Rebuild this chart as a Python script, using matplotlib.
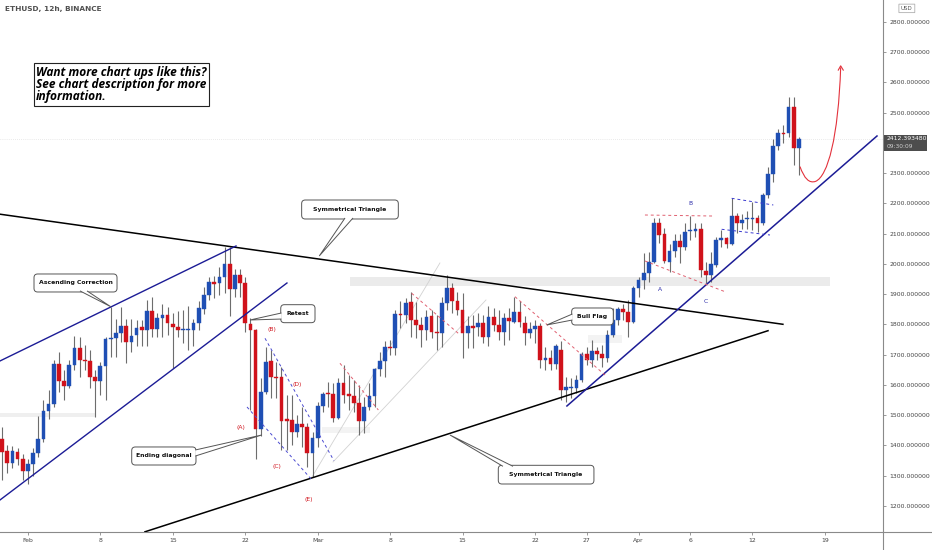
import numpy as np
import matplotlib
matplotlib.use("Agg")
import matplotlib.pyplot as plt
from matplotlib.patches import FancyBboxPatch, Rectangle, Polygon, PathPatch
from matplotlib.path import Path
from matplotlib.lines import Line2D
import matplotlib.transforms as mtransforms

# ---------------- data (ETHUSD 12h candles) ----------------
first_candle_day = -2.5   # days relative to Feb 1 00:00 (Jan 29 12:00)
candle_step = 0.5         # 12h

opens = [1420, 1383, 1341, 1380, 1355, 1317, 1339, 1376, 1420, 1514,
         1537, 1668, 1614, 1598, 1665, 1721, 1683, 1679, 1627, 1614,
         1663, 1751, 1756, 1773, 1795, 1743, 1765, 1790, 1782, 1845,
         1784, 1820, 1831, 1802, 1791, 1782, 1783, 1782, 1806, 1850,
         1897, 1940, 1936, 1958, 2000, 1916, 1964, 1936, 1802, 1782,
         1453, 1578, 1680, 1627, 1625, 1486, 1484, 1446, 1471, 1460,
         1374, 1424, 1531, 1572, 1570, 1490, 1608, 1569, 1564, 1539,
         1482, 1528, 1564, 1652, 1680, 1727, 1723, 1835, 1830, 1873,
         1815, 1798, 1782, 1828, 1775, 1771, 1872, 1922, 1879, 1848,
         1771, 1795, 1793, 1806, 1760, 1824, 1798, 1776, 1820, 1809,
         1842, 1806, 1773, 1785, 1795, 1684, 1688, 1669, 1716, 1583,
         1589, 1589, 1616, 1701, 1683, 1713, 1704, 1688, 1765, 1815,
         1850, 1842, 1809, 1919, 1947, 1969, 2008, 2134, 2099, 2008,
         2044, 2077, 2057, 2109, 2110, 2115, 1978, 1964, 1997, 2079,
         2085, 2066, 2159, 2134, 2148, 2149, 2151, 2134, 2228, 2297,
         2390, 2432, 2432, 2518, 2382]

highs = [1462, 1402, 1398, 1391, 1372, 1354, 1391, 1497, 1550, 1583,
         1683, 1710, 1650, 1683, 1762, 1760, 1732, 1716, 1650, 1677,
         1760, 1859, 1817, 1859, 1817, 1817, 1815, 1815, 1881, 1890,
         1839, 1868, 1857, 1839, 1846, 1848, 1861, 1817, 1879, 1923,
         1958, 1960, 1991, 2057, 2057, 1982, 1982, 1958, 1820, 1784,
         1622, 1727, 1716, 1677, 1661, 1567, 1567, 1501, 1528, 1473,
         1446, 1545, 1578, 1611, 1605, 1622, 1666, 1633, 1616, 1600,
         1561, 1605, 1655, 1710, 1746, 1749, 1848, 1876, 1886, 1909,
         1875, 1826, 1848, 1848, 1831, 1890, 1964, 1938, 1909, 1903,
         1828, 1831, 1837, 1831, 1861, 1853, 1848, 1837, 1853, 1890,
         1876, 1828, 1809, 1815, 1804, 1724, 1716, 1735, 1746, 1625,
         1622, 1633, 1710, 1727, 1749, 1727, 1732, 1782, 1853, 1857,
         1868, 1881, 1927, 1958, 2035, 2041, 2151, 2151, 2118, 2066,
         2099, 2099, 2137, 2159, 2137, 2134, 2008, 2041, 2090, 2112,
         2090, 2217, 2167, 2165, 2176, 2206, 2162, 2234, 2320, 2412,
         2445, 2459, 2551, 2551, 2419]

lows = [1286, 1308, 1324, 1336, 1286, 1273, 1299, 1363, 1413, 1486,
        1528, 1578, 1550, 1589, 1650, 1627, 1650, 1589, 1495, 1567,
        1550, 1694, 1691, 1743, 1672, 1710, 1729, 1729, 1729, 1758,
        1760, 1760, 1765, 1657, 1758, 1738, 1716, 1729, 1782, 1835,
        1881, 1886, 1897, 1903, 1828, 1892, 1892, 1776, 1517, 1354,
        1431, 1570, 1556, 1556, 1385, 1385, 1402, 1429, 1396, 1330,
        1297, 1396, 1512, 1528, 1479, 1486, 1539, 1517, 1512, 1435,
        1440, 1517, 1528, 1630, 1627, 1699, 1699, 1787, 1804, 1758,
        1754, 1724, 1749, 1754, 1716, 1727, 1848, 1837, 1831, 1688,
        1721, 1721, 1762, 1738, 1729, 1780, 1749, 1732, 1749, 1804,
        1793, 1732, 1754, 1738, 1655, 1649, 1649, 1653, 1550, 1545,
        1556, 1572, 1611, 1666, 1660, 1683, 1660, 1677, 1760, 1798,
        1815, 1760, 1804, 1892, 1916, 1941, 2002, 2068, 2002, 1975,
        2024, 2002, 2046, 2079, 2090, 1958, 1936, 1942, 1991, 2057,
        2052, 2063, 2101, 2115, 2115, 2112, 2107, 2129, 2217, 2272,
        2377, 2399, 2421, 2327, 2294]

closes = [1380, 1343, 1382, 1355, 1317, 1339, 1376, 1420, 1514, 1537,
          1668, 1614, 1598, 1665, 1721, 1683, 1679, 1627, 1614, 1663,
          1751, 1756, 1773, 1795, 1743, 1762, 1787, 1782, 1845, 1784,
          1820, 1831, 1804, 1791, 1782, 1785, 1786, 1806, 1853, 1897,
          1939, 1933, 1958, 2000, 1916, 1964, 1938, 1804, 1782, 1453,
          1578, 1677, 1625, 1622, 1482, 1481, 1446, 1471, 1460, 1374,
          1424, 1531, 1570, 1569, 1490, 1608, 1567, 1564, 1539, 1482,
          1528, 1564, 1652, 1680, 1727, 1723, 1835, 1830, 1872, 1815,
          1797, 1782, 1826, 1775, 1771, 1872, 1922, 1879, 1848, 1771,
          1795, 1789, 1806, 1760, 1824, 1798, 1776, 1820, 1812, 1842,
          1809, 1773, 1785, 1795, 1683, 1688, 1669, 1729, 1583, 1592,
          1594, 1616, 1701, 1683, 1713, 1704, 1688, 1765, 1815, 1850,
          1842, 1809, 1919, 1947, 1969, 2008, 2134, 2096, 2011, 2044,
          2077, 2057, 2107, 2112, 2115, 1980, 1964, 2000, 2079, 2085,
          2066, 2159, 2134, 2145, 2151, 2151, 2137, 2228, 2297, 2390,
          2434, 2429, 2518, 2382, 2412.393480]

tick_days = [0, 7, 14, 21, 28, 35, 42, 49, 54, 59, 64, 70, 77]
tick_labels = ["Feb", "8", "15", "22", "Mar", "8", "15", "22", "27", "Apr", "6", "12", "19"]
price_ticks = list(range(1200, 2801, 100))
hidden_price_ticks = [2400]   # covered by the last-price badge in the reference
last_price = 2412.393480
countdown = "09:30:09"

# ---------------- styling ----------------
BLUE = "#1f4fb4"
RED = "#d0121b"
WICK = "#6d6d6d"
NAVY = "#1c1c96"
AXC = "#8a8a8a"

W, H = 932, 550
fig = plt.figure(figsize=(W / 100, H / 100), dpi=100)
fig.patch.set_facecolor("white")
ax_bottom = (H - 531.7) / H
ax = fig.add_axes([0, ax_bottom, 883 / W, 531.7 / H])
ax.set_facecolor("white")
ax.set_xlim(-2.696, 82.62)
ax.set_ylim(1114.9, 2872.7)

o = np.array(opens, float)
h = np.array(highs, float)
l = np.array(lows, float)
c = np.array(closes, float)
x = first_candle_day + candle_step * np.arange(len(o))
up = c >= o
cols = np.where(up, BLUE, RED)

# background zones
ax.add_patch(Rectangle((31.12, 1927), 77.5 - 31.12, 1957 - 1927, color="#ebebeb", lw=0, zorder=0))
ax.add_patch(Rectangle((-2.7, 1495), 6.48 + 2.7, 1508 - 1495, color="#efefef", lw=0, zorder=0))
ax.add_patch(Rectangle((28.39, 1441), 33.05 - 28.39, 1461 - 1441, color="#f3f3f3", lw=0, zorder=0))
ax.add_patch(Rectangle((54.1, 1739), 57.4 - 54.1, 1765 - 1739, color="#f3f3f3", lw=0, zorder=0))

# current price line
ax.axhline(last_price, color="#d6d6d6", lw=0.5, ls=(0, (1, 2)), zorder=0.5)

# faint channel lines
ax.plot([27.45, 39.81], [1295.8, 2003.3], color="#d2d2d2", lw=0.6, zorder=1)
ax.plot([29.48, 44.26], [1345.4, 1880.9], color="#d2d2d2", lw=0.6, zorder=1)

# candles
ax.vlines(x, l, h, colors=WICK, lw=0.8, zorder=2)
bh = np.maximum(np.abs(c - o), 3.0)
bb = np.minimum(o, c)
ax.bar(x, bh, bottom=bb, width=0.36, color=cols, edgecolor=cols, lw=0.3, zorder=3)

# triangle lines
ax.plot([-2.70, 72.95], [2164.6, 1800.6], color="black", lw=1.1, zorder=4)
ax.plot([11.31, 71.51], [1114.6, 1779.4], color="black", lw=1.1, zorder=4)
# ascending correction channel
ax.plot([-2.70, 20.11], [1679.3, 2059.5], color=NAVY, lw=1.0, zorder=4)
ax.plot([-2.70, 25.03], [1219.7, 1937.1], color=NAVY, lw=1.0, zorder=4)
# rising trend line
ax.plot([52.08, 82.04], [1530.5, 2423.1], color=NAVY, lw=1.1, zorder=4)

# ending diagonal (blue dashed)
dash = (0, (3, 3))
ax.plot([22.91, 29.57], [1754.3, 1349.7], color="#4a4ad0", lw=0.7, ls=dash, zorder=4)
ax.plot([21.17, 27.45], [1527.2, 1285.9], color="#4a4ad0", lw=0.7, ls=dash, zorder=4)
# red dashed flag lines
for xs, ys in [([30.15, 33.86], [1671.7, 1517.3]),
               ([37.08, 41.58], [1903.1, 1770.8]),
               ([47.06, 55.76], [1891.9, 1633.0]),
               ([59.62, 66.10], [2161.9, 2158.6]),
               ([59.62, 67.35], [2009.9, 1908.4])]:
    ax.plot(xs, ys, color="#e06070", lw=0.7, ls=dash, zorder=4)
# blue dashed small flag
ax.plot([68.0, 72.02], [2217.1, 2195.0], color="#3a3acf", lw=0.7, ls=dash, zorder=4)
ax.plot([67.03, 71.7], [2114.7, 2095.8], color="#3a3acf", lw=0.7, ls=dash, zorder=4)

# wave labels
for txt, xx, yy in [("(A)", 20.56, 1460), ("(B)", 23.56, 1782), ("(C)", 24.04, 1330),
                    ("(D)", 26.03, 1600), ("(E)", 27.09, 1220)]:
    ax.text(xx, yy, txt, color=RED, fontsize=4.3, ha="center", va="center", zorder=6)
for txt, xx, yy in [("A", 61.07, 1916), ("B", 63.97, 2201), ("C", 65.51, 1875)]:
    ax.text(xx, yy, txt, color="#2a2aa8", fontsize=4.3, ha="center", va="center", zorder=6)

# predicted path (red curved arrow)
verts = [(74.6, 2322), (75.2, 2262), (76.1, 2273),
         (77.3, 2290), (78.3, 2420), (78.53, 2650)]
codes = [Path.MOVETO, Path.CURVE3, Path.CURVE3, Path.CURVE4, Path.CURVE4, Path.CURVE4]
ax.add_patch(PathPatch(Path(verts, codes), fill=False, edgecolor="#e3323c", lw=0.8, zorder=5))
ax.plot([78.30, 78.53, 78.78], [2641, 2655, 2641], color="#e3323c", lw=0.8, zorder=5)

# callouts
ASPECT = (10.35 / 0.3025)


def callout(text, x0, x1, y0, y1, base, target):
    ax.add_patch(FancyBboxPatch((x0, y0), x1 - x0, y1 - y0,
                                boxstyle="round,pad=0,rounding_size=0.35",
                                mutation_aspect=ASPECT, facecolor="white",
                                edgecolor="#555555", lw=0.7, zorder=7))
    (bx1, by1), (bx2, by2) = base
    ax.add_patch(Polygon([(bx1, by1), target, (bx2, by2)], closed=False,
                         facecolor="white", edgecolor="#555555", lw=0.7, zorder=8))
    ax.text((x0 + x1) / 2, (y0 + y1) / 2, text, fontsize=4.4, fontweight="bold",
            color="#111111", ha="center", va="center", zorder=9)


callout("Ascending Correction", 0.59, 8.61, 1907.4, 1966.9,
        [(5.03, 1911), (5.71, 1911)], (8.0, 1858.8))
callout("Symmetrical Triangle", 26.45, 35.79, 2148.7, 2211.5,
        [(30.64, 2152), (31.41, 2152)], (28.15, 2026.4))
callout("Retest", 24.43, 27.74, 1805.9, 1865.4,
        [(24.5, 1838), (24.5, 1818)], (21.46, 1814.8))
callout("Ending diagonal", 10.03, 16.24, 1335.4, 1395.0,
        [(16.17, 1385), (16.17, 1365)], (22.59, 1434.6))
callout("Bull Flag", 52.54, 56.56, 1798.3, 1854.5,
        [(52.61, 1834.6), (52.61, 1814.8)], (50.13, 1798.3))
callout("Symmetrical Triangle", 45.45, 54.69, 1272.6, 1334.4,
        [(45.9, 1331), (46.87, 1331)], (40.78, 1434.6))

# info text box
ax.text(0.80, 2655, "Want more chart ups like this?\nSee chart description for more\ninformation.",
        fontsize=8.6, family="Open Sans", fontweight="bold", style="italic", color="black",
        ha="left", va="top", linespacing=0.92, zorder=9,
        bbox=dict(boxstyle="square,pad=0.2", facecolor="white", edgecolor="#222222", lw=0.8))

# title
ax.text(0.0057, 0.983, "ETHUSD, 12h, BINANCE", transform=ax.transAxes, fontsize=5.3,
        fontweight="bold", color="#505050", ha="left", va="center")

# axes styling
for s in ["top", "left"]:
    ax.spines[s].set_visible(False)
ax.spines["right"].set_color(AXC)
ax.spines["bottom"].set_color(AXC)
ax.spines["right"].set_linewidth(0.8)
ax.spines["bottom"].set_linewidth(0.8)
ax.yaxis.tick_right()
ax.set_yticks(price_ticks)
ax.set_yticklabels(["" if p in hidden_price_ticks else f"{p:.6f}" for p in price_ticks])
ax.set_xticks(tick_days)
ax.set_xticklabels(tick_labels)
ax.tick_params(axis="y", length=2.5, width=0.6, color=AXC, labelsize=4.4, labelcolor="#444444", pad=2)
ax.tick_params(axis="x", length=2.5, width=0.6, color=AXC, labelsize=4.4, labelcolor="#444444", pad=2)

# extend scale separators
fig.add_artist(Line2D([883 / W, 1], [ax_bottom, ax_bottom], transform=fig.transFigure, color=AXC, lw=0.8))
fig.add_artist(Line2D([883 / W, 883 / W], [0, ax_bottom], transform=fig.transFigure, color=AXC, lw=0.8))

# price label on right scale
blend = mtransforms.blended_transform_factory(ax.transAxes, ax.transData)
ax.add_patch(Rectangle((1.0011, 2374.5), 0.0487, 2426.4 - 2374.5, transform=blend,
                       facecolor="#4d4d4d", edgecolor="none", clip_on=False, zorder=10))
ax.text(1.004, 2414, f"{last_price:.6f}", transform=blend, fontsize=4.4, color="white",
        ha="left", va="center", clip_on=False, zorder=11)
ax.text(1.004, 2388, countdown, transform=blend, fontsize=4.2, color="#cfcfcf",
        ha="left", va="center", clip_on=False, zorder=11)

# USD badge
ax.add_patch(FancyBboxPatch((1.018, 2831), 0.018, 2859 - 2831, transform=blend,
                            boxstyle="round,pad=0,rounding_size=0.003",
                            facecolor="white", edgecolor="#b0b0b0", lw=0.6, clip_on=False, zorder=10))
ax.text(1.027, 2845, "USD", transform=blend, fontsize=4.0, color="#555555",
        ha="center", va="center", clip_on=False, zorder=11)

fig.savefig("out.png", dpi=100, facecolor="white")
